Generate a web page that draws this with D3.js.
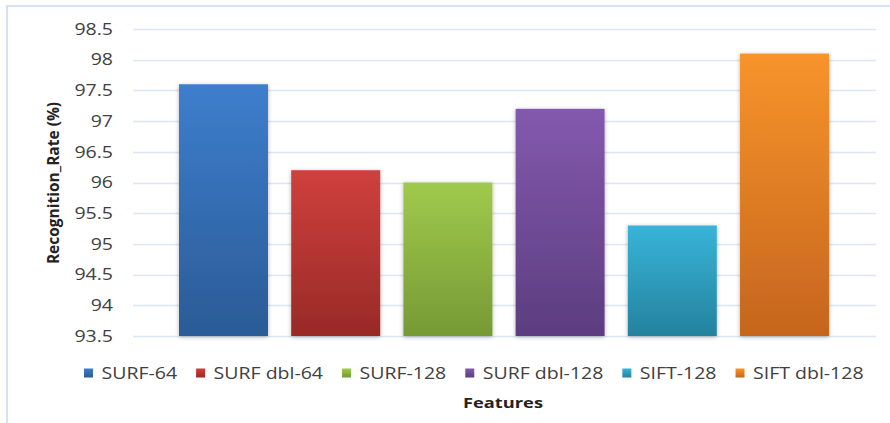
<!DOCTYPE html>
<html>
<head>
<meta charset="utf-8">
<script src="https://cdn.jsdelivr.net/npm/d3@7"></script>
<style>
  html, body { margin: 0; padding: 0; background: #fff; }
  svg { display: block; }
  text { font-family: "Open Sans", "DejaVu Sans", sans-serif; }
</style>
</head>
<body>
<svg id="chart" width="890" height="423"></svg>
<script>
// Recognition rate per feature descriptor
const categories = ["SURF-64", "SURF dbl-64", "SURF-128", "SURF dbl-128", "SIFT-128", "SIFT dbl-128"];
const rates = [97.6, 96.2, 96.0, 97.2, 95.3, 98.1];
const yTicks = [93.5, 94, 94.5, 95, 95.5, 96, 96.5, 97, 97.5, 98, 98.5];
const topColors = ["#3d7ecd", "#cf403d", "#9fca4c", "#8359ae", "#38b4d9", "#f8942b"];
const bottomColors = ["#2b5b96", "#982a27", "#769a35", "#5c3d7f", "#24829e", "#c5651e"];

const SX = 1.22; // horizontal stretch applied to all upright text

const svg = d3.select("#chart");
const defs = svg.append("defs");

// soft shadow under each bar
const shadow = defs.append("filter").attr("id", "shadow")
  .attr("x", "-20%").attr("y", "-10%").attr("width", "140%").attr("height", "120%");
shadow.append("feDropShadow").attr("dx", 0).attr("dy", 1)
  .attr("stdDeviation", 2).attr("flood-color", "#000").attr("flood-opacity", 0.3);

categories.forEach((c, i) => {
  const g = defs.append("linearGradient").attr("id", "grad" + i)
    .attr("x1", 0).attr("y1", 0).attr("x2", 0).attr("y2", 1);
  g.append("stop").attr("offset", "0%").attr("stop-color", topColors[i]);
  g.append("stop").attr("offset", "100%").attr("stop-color", bottomColors[i]);
});

// chart frame
svg.append("rect").attr("x", 7).attr("y", 6).attr("width", 940).attr("height", 440)
  .attr("fill", "none").attr("stroke", "#c6d9f1").attr("stroke-width", 1.5);

const gridX0 = 133, gridX1 = 876;
const y = d3.scaleLinear().domain([93.5, 98.5]).range([336, 29]);
const x = d3.scaleBand().domain(categories).range([167.4, 840.6])
  .paddingInner(0.207).paddingOuter(0.1035);

function stretchedText(parent, px, py, str) {
  const g = parent.append("g").attr("transform", `translate(${px},${py}) scale(${SX},1)`);
  return g.append("text").text(str);
}

// horizontal grid
svg.append("g").selectAll("line").data(yTicks).join("line")
  .attr("x1", gridX0).attr("x2", gridX1)
  .attr("y1", d => Math.round(y(d)) + 0.5).attr("y2", d => Math.round(y(d)) + 0.5)
  .attr("stroke", "#dce6f4").attr("stroke-width", 1.5);

// y tick labels
const tickG = svg.append("g");
yTicks.forEach(t => {
  stretchedText(tickG, 113, y(t), String(t))
    .attr("text-anchor", "end").attr("dy", "0.36em")
    .attr("font-size", 16).attr("fill", "#404040");
});

// bars
svg.append("g").selectAll("rect").data(categories).join("rect")
  .attr("x", d => x(d))
  .attr("y", (d, i) => y(rates[i]))
  .attr("width", x.bandwidth())
  .attr("height", (d, i) => y(93.5) - y(rates[i]))
  .attr("fill", (d, i) => `url(#grad${i})`)
  .attr("filter", "url(#shadow)");

// y axis title
svg.append("text")
  .attr("transform", `translate(59,183) rotate(-90)`)
  .attr("text-anchor", "middle")
  .attr("font-size", 15.5).attr("font-weight", "bold").attr("fill", "#222")
  .text("Recognition_Rate (%)");

// x axis title
stretchedText(svg, 503, 408, "Features")
  .attr("text-anchor", "middle").attr("font-size", 15)
  .attr("font-weight", "bold").attr("fill", "#222");

// legend
const legend = svg.append("g");
let lx = 84;
const sw = 9, swGap = 8.5, itemGap = 19;
categories.forEach((c, i) => {
  legend.append("rect").attr("x", lx).attr("y", 368.5).attr("width", sw).attr("height", sw)
    .attr("fill", `url(#grad${i})`);
  const t = stretchedText(legend, lx + sw + swGap, 378.5, c)
    .attr("font-size", 16).attr("fill", "#404040");
  const w = t.node().getComputedTextLength() * SX;
  lx += sw + swGap + w + itemGap;
});
</script>
</body>
</html>
